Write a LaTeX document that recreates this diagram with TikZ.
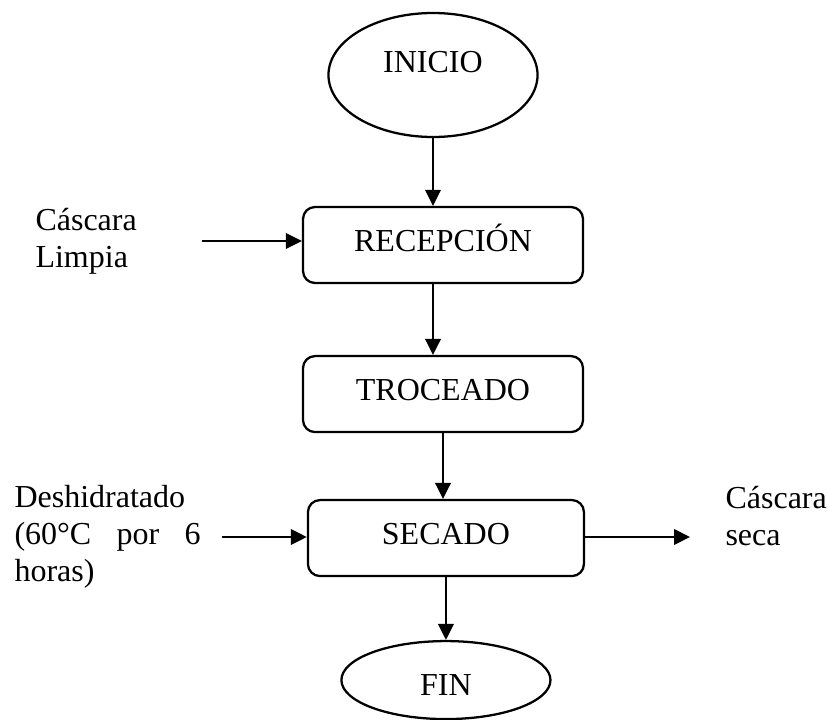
\documentclass[tikz,border=0pt]{standalone}
\usepackage{fontspec}
\setmainfont{Liberation Serif}
\usetikzlibrary{shapes.geometric,arrows.meta}

\tikzset{
  caja/.style={draw, rounded corners=4.5pt, line width=0.85pt, minimum width=105pt,
    minimum height=28.5pt, text height=7.9pt, text depth=3pt},
  ovalo/.style={draw, ellipse, line width=0.85pt, minimum width=78.4pt},
  flecha/.style={-{Triangle[length=6pt,width=5.8pt]}, line width=0.85pt},
  nota/.style={align=left, inner sep=0pt, anchor=north west},
}

\begin{document}
\begin{tikzpicture}[x=0.375pt, y=-0.375pt, font=\fontsize{12pt}{13.9pt}\selectfont, node distance=54pt]
\useasboundingbox (0,0) rectangle (828,720);

% proceso
\node(inicio) [ovalo, minimum height=46.5pt, text height=7.9pt, text depth=9.8pt] at (433,75) {INICIO};
\node(recepcion) [caja, below of=inicio, node distance=63.75pt, xshift=3.75pt] {RECEPCIÓN};
\node(troceado) [caja, below of=recepcion, node distance=55.9pt] {TROCEADO};
\node(secado) [caja, below of=troceado, xshift=1.1pt, minimum width=103.5pt] {SECADO};
\node(fin) [ovalo, below of=secado, node distance=53.25pt, minimum height=29.25pt,
  text height=11.7pt, text depth=0pt] {FIN};

% entradas y salidas
\node(cascara) [nota] at (35,208) {Cáscara\\Limpia};
\node(deshidratado) [nota] at (14,485) {Deshidratado\\\makebox[69.75pt][s]{(60°C por 6}\\horas)};
\node(seca) [nota] at (725,486) {Cáscara\\seca};
\coordinate (entrada1) at (202,241);
\coordinate (entrada2) at (222,537);
\coordinate (salida) at (690,537);

\draw[flecha] (inicio.south) -- (inicio.south |- recepcion.north);
\draw[flecha] (recepcion.south -| inicio) -- (troceado.north -| inicio);
\draw[flecha] (troceado.south) -- (troceado.south |- secado.north);
\draw[flecha] (secado) -- (fin);
\draw[flecha] (entrada1) -- (entrada1 -| recepcion.west);
\draw[flecha] (entrada2) -- (entrada2 -| secado.west);
\draw[flecha] (secado.east |- salida) -- (salida);
\end{tikzpicture}
\end{document}
